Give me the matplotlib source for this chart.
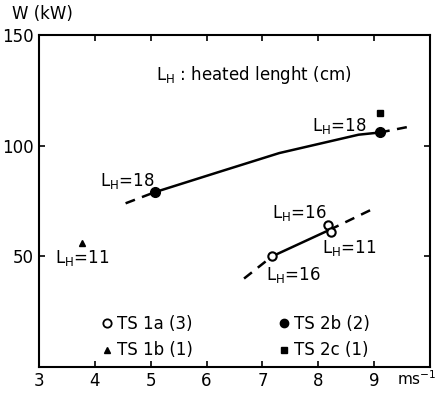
import numpy as np
import matplotlib.pyplot as plt
from matplotlib.lines import Line2D

plt.rcParams['font.family'] = ['DejaVu Sans']

# measured points
ts1a_x = [7.17, 8.17, 8.22]
ts1a_y = [50, 64, 61]
ts1b_x = [3.77]
ts1b_y = [56]
ts2b_x = [5.07, 9.1]
ts2b_y = [79, 106]
ts2c_x = [9.1]
ts2c_y = [115]

# trend lines
up_solid_x = [5.07, 6.2, 7.3, 8.72, 9.1]
up_solid_y = [79, 88, 96.7, 105, 106]
up_dash_l_x = [4.55, 5.07]
up_dash_l_y = [74, 79]
up_dash_r_x = [9.1, 9.7]
up_dash_r_y = [106, 109]
lo_solid_x = [7.17, 8.2]
lo_solid_y = [50, 62]
lo_dash_l_x = [6.67, 7.17]
lo_dash_l_y = [40, 50]
lo_dash_r_x = [8.2, 9.02]
lo_dash_r_y = [62, 72]

fig = plt.figure(figsize=(4.38, 3.99), dpi=100)
ax = fig.add_axes([0.089, 0.080, 0.893, 0.832])

k = 'black'
ax.plot(up_solid_x, up_solid_y, color=k, lw=1.8)
ax.plot(up_dash_l_x, up_dash_l_y, color=k, lw=1.8, ls=(0, (4, 3)))
ax.plot(up_dash_r_x, up_dash_r_y, color=k, lw=1.8, ls=(0, (4, 3)))
ax.plot(lo_solid_x, lo_solid_y, color=k, lw=1.8)
ax.plot(lo_dash_l_x, lo_dash_l_y, color=k, lw=1.8, ls=(0, (4, 3)))
ax.plot(lo_dash_r_x, lo_dash_r_y, color=k, lw=1.8, ls=(0, (4, 3)))

ax.plot(ts1a_x, ts1a_y, 'o', mfc='white', mec=k, mew=1.5, ms=6, ls='none')
ax.plot(ts1b_x, ts1b_y, '^', color=k, ms=5, ls='none')
ax.plot(ts2b_x, ts2b_y, 'o', color=k, ms=7, ls='none')
ax.plot(ts2c_x, ts2c_y, 's', color=k, ms=4, ls='none')

fs = 12
lh = r'L$_\mathregular{H}$'
ax.text(4.09, 84, lh + '=18', fontsize=fs, va='center')
ax.text(7.88, 109, lh + '=18', fontsize=fs, va='center')
ax.text(3.29, 49.5, lh + '=11', fontsize=fs, va='center')
ax.text(7.17, 69.5, lh + '=16', fontsize=fs, va='center')
ax.text(8.06, 54, lh + '=11', fontsize=fs, va='center')
ax.text(7.06, 41.5, lh + '=16', fontsize=fs, va='center')
ax.text(5.1, 132, lh + ' : heated lenght (cm)', fontsize=fs, va='center')

handles = [
    Line2D([], [], marker='o', mfc='white', mec=k, mew=1.3, ms=6, ls='none'),
    Line2D([], [], marker='^', color=k, ms=5, ls='none'),
    Line2D([], [], marker='o', color=k, ms=6, ls='none'),
    Line2D([], [], marker='s', color=k, ms=4, ls='none'),
]
labels = ['TS 1a (3)', 'TS 1b (1)', 'TS 2b (2)', 'TS 2c (1)']
ax.legend(handles, labels, ncol=2, frameon=False, fontsize=fs,
          loc='lower left', bbox_to_anchor=(0.113, -0.022),
          handletextpad=0.1, handlelength=1.0, columnspacing=5.0,
          labelspacing=0.5)

ax.set_xlim(3, 10)
ax.set_ylim(0, 150)
ax.set_xticks([3, 4, 5, 6, 7, 8, 9])
ax.set_yticks([50, 100, 150])
ax.tick_params(direction='in', top=True, right=True, labelsize=fs, width=1.2, length=4)
for s in ax.spines.values():
    s.set_linewidth(1.5)

fig.text(12 / 438, 1 - 14 / 399, 'W (kW)', fontsize=fs, va='center')
ax.text(9.4, -8.1, r'ms$^{\mathregular{-1}}$', fontsize=11, va='baseline')

fig.savefig('out.png', dpi=100)
